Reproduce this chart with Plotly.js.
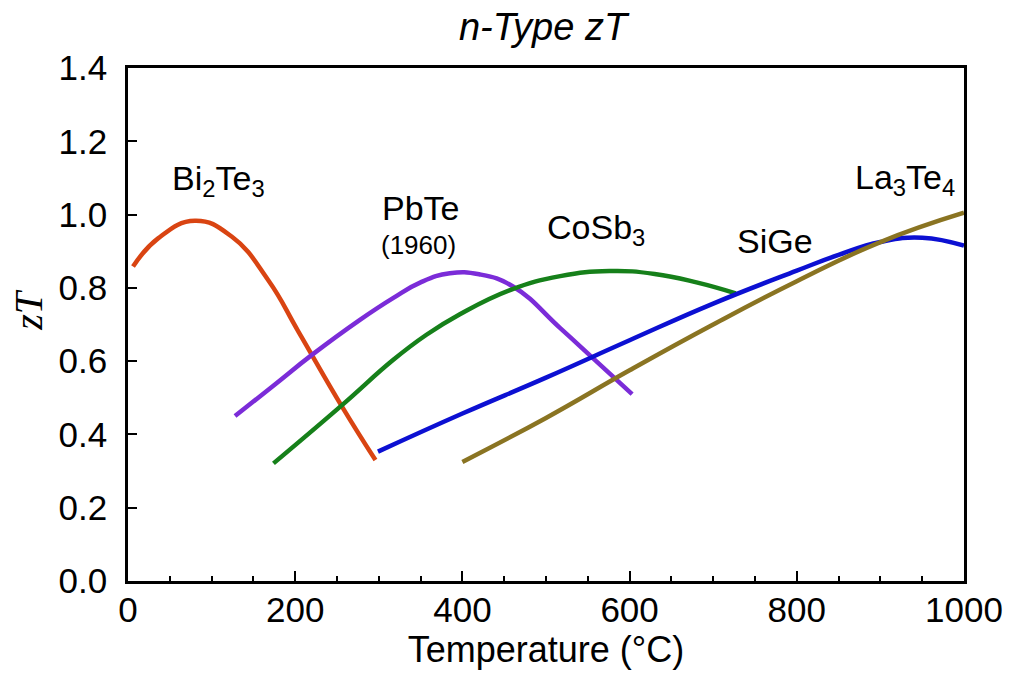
<!DOCTYPE html>
<html>
<head>
<meta charset="utf-8">
<script src="https://cdn.plot.ly/plotly-3.0.1.min.js"></script>
<style>html,body{margin:0;padding:0;background:#fff;}#chart{width:1014px;height:684px;}</style>
</head>
<body>
<div id="chart"></div>
<script>
// Temperature (°C) and zT values
const bi2te3T = [6, 36, 80, 124, 168, 204, 256, 296];
const bi2te3Z = [0.858, 0.935, 0.983, 0.94, 0.82, 0.68, 0.476, 0.33];

const pbteT = [128, 175, 220, 277, 317, 350, 385, 420, 461, 517, 560, 603];
const pbteZ = [0.45, 0.535, 0.617, 0.712, 0.772, 0.815, 0.84, 0.837, 0.803, 0.69, 0.60, 0.51];

const cosb3T = [174, 256, 317, 357, 397, 457, 517, 576, 630, 680, 727];
const cosb3Z = [0.321, 0.48, 0.603, 0.672, 0.728, 0.794, 0.832, 0.846, 0.838, 0.815, 0.785];

const sigeT = [299, 400, 500, 600, 700, 800, 850, 900, 950, 1000];
const sigeZ = [0.353, 0.457, 0.555, 0.657, 0.757, 0.847, 0.89, 0.925, 0.937, 0.915];

const la3te4T = [400, 500, 600, 700, 800, 900, 1000];
const la3te4Z = [0.325, 0.445, 0.575, 0.70, 0.818, 0.925, 1.005];

const seriesNames = ["Bi2Te3", "PbTe", "CoSb3", "SiGe", "La3Te4"];
const seriesColors = ["#d94412", "#7b2cd8", "#16801a", "#0c10d2", "#8a7422"];

const labelText = ["Bi<sub>2</sub>Te<sub>3</sub>", "PbTe", "(1960)", "CoSb<sub>3</sub>", "SiGe", "La<sub>3</sub>Te<sub>4</sub>"];
const labelT = [108, 350, 347, 560, 774, 929];
const labelZ = [1.092, 1.017, 0.918, 0.959, 0.928, 1.097];

const xs = [bi2te3T, pbteT, cosb3T, sigeT, la3te4T];
const ys = [bi2te3Z, pbteZ, cosb3Z, sigeZ, la3te4Z];

const FONT = "Liberation Sans, Arial, sans-serif";

const data = seriesNames.map((n, i) => ({
  x: xs[i], y: ys[i], name: n, type: "scatter", mode: "lines",
  line: {color: seriesColors[i], width: 4.5, shape: "spline", smoothing: 1.3},
  hoverinfo: "x+y+name"
}));

const annotations = labelText.map((t, i) => ({
  x: labelT[i], y: labelZ[i], xref: "x", yref: "y", text: t, showarrow: false,
  font: {family: FONT, size: i === 2 ? 26 : 34, color: "#000"},
  xanchor: "center", yanchor: "middle"
}));
annotations.push({
  x: -0.12, y: 0.528, xref: "paper", yref: "paper", text: "<i>zT</i>", showarrow: false,
  textangle: -90, xanchor: "center", yanchor: "middle",
  font: {family: "Liberation Serif, Times New Roman, serif", size: 40, color: "#000"}
});

const layout = {
  width: 1014, height: 684,
  paper_bgcolor: "#fff", plot_bgcolor: "#fff",
  margin: {l: 128, r: 50, t: 68, b: 103},
  showlegend: false,
  title: {text: "<i>n-Type zT</i>", font: {family: FONT, size: 38, color: "#000"}, x: 0.5355, xanchor: "center", y: 0.961, yanchor: "middle"},
  xaxis: {
    range: [0, 1000], dtick: 200, tick0: 0,
    ticks: "inside", ticklen: 10, tickwidth: 2, tickcolor: "#000",
    minor: {dtick: 50, ticks: "inside", ticklen: 5, tickwidth: 1.5, tickcolor: "#000"},
    showline: true, linecolor: "#000", linewidth: 2.5, mirror: true,
    showgrid: false, zeroline: false,
    tickfont: {family: FONT, size: 35, color: "#000"},
    ticklabelstandoff: -4,
    title: {text: "Temperature (°C)", font: {family: FONT, size: 36, color: "#000"}, standoff: 8}
  },
  yaxis: {
    range: [0, 1.4], dtick: 0.2, tick0: 0, tickformat: ".1f",
    ticks: "inside", ticklen: 9, tickwidth: 2, tickcolor: "#000",
    showline: true, linecolor: "#000", linewidth: 2.5, mirror: true,
    showgrid: false, zeroline: false,
    tickfont: {family: FONT, size: 35, color: "#000"},
    ticklabelstandoff: 11
  },
  annotations: annotations
};

Plotly.newPlot("chart", data, layout, {displayModeBar: false});
</script>
</body>
</html>
